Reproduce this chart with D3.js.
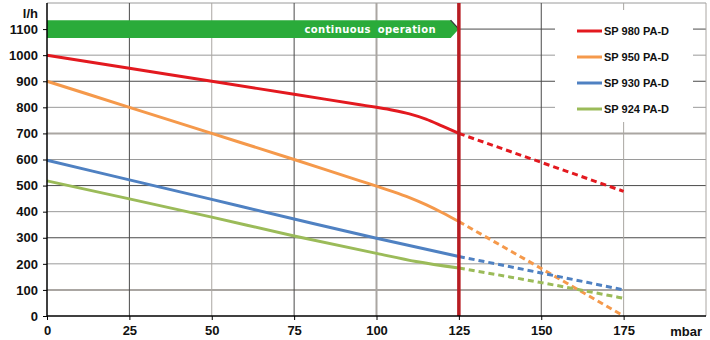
<!DOCTYPE html>
<html>
<head>
<meta charset="utf-8">
<script src="https://cdn.jsdelivr.net/npm/d3@7"></script>
<style>
  body { margin: 0; background: #fff; }
  svg { display: block; font-family: "Liberation Sans", Arial, sans-serif; }
</style>
</head>
<body>
<svg id="chart" width="710" height="340"></svg>
<script>
// data
var xTicks = [0, 25, 50, 75, 100, 125, 150, 175];
var yTicks = [0, 100, 200, 300, 400, 500, 600, 700, 800, 900, 1000, 1100];
var seriesNames = ["SP 980 PA-D", "SP 950 PA-D", "SP 930 PA-D", "SP 924 PA-D"];
var seriesColors = ["#e3191f", "#f5994b", "#4f81c2", "#9bbb59"];

// solid part (0..125 mbar)
var sp980 = [[0, 1000], [25, 950], [50, 900], [75, 850], [95, 810], [100, 800], [105, 789], [110, 775], [115, 755], [120, 728], [125, 700]];
var sp950 = [[0, 900], [25, 800], [50, 700], [75, 600], [95, 518], [100, 498], [105, 477], [110, 454], [115, 427], [120, 396], [125, 362]];
var sp930 = [[0, 597], [25, 522], [50, 447], [75, 372], [100, 298], [125, 228]];
var sp924 = [[0, 518], [25, 449], [50, 379], [75, 307], [100, 240], [112, 209], [125, 184]];
// dashed part (125..175 mbar)
var sp980d = [[125, 700], [175, 478]];
var sp950d = [[125, 362], [150, 182], [175, 0]];
var sp930d = [[125, 228], [150, 165], [175, 100]];
var sp924d = [[125, 184], [150, 128], [175, 68]];

var solid = [sp980, sp950, sp930, sp924];
var dashed = [sp980d, sp950d, sp930d, sp924d];

var svg = d3.select("#chart");
var x = d3.scaleLinear().domain([0, 200]).range([47, 706]);
var y = d3.scaleLinear().domain([0, 1200]).range([316, 3]);

// gridlines
var hDark = [300, 500, 900, 1100];
var hThick = [100, 700];
var grid = svg.append("g");
grid.selectAll("line.h")
  .data(yTicks.slice(1).concat([1200]))
  .join("line")
  .attr("x1", x(0)).attr("x2", x(200))
  .attr("y1", d => y(d)).attr("y2", d => y(d))
  .attr("stroke", d => hDark.includes(d) ? "#4a4a4a" : (hThick.includes(d) ? "#aaa6a2" : "#9a9a9a"))
  .attr("stroke-width", d => hThick.includes(d) ? 2 : 1);

var vDark = [25, 75, 150];
grid.selectAll("line.v")
  .data([25, 50, 75, 100, 150, 175, 200])
  .join("line")
  .attr("y1", y(0)).attr("y2", y(1200))
  .attr("x1", d => x(d)).attr("x2", d => x(d))
  .attr("stroke", d => vDark.includes(d) ? "#4a4a4a" : "#aaa6a2")
  .attr("stroke-width", d => d == 100 ? 2 : 1);

// green "continuous operation" arrow
var arrowTop = 1134, arrowBot = 1066, tip = 125;
var arrow = d3.path();
arrow.moveTo(x(0), y(arrowTop));
arrow.lineTo(x(122.5), y(arrowTop));
arrow.lineTo(x(tip), y((arrowTop + arrowBot) / 2));
arrow.lineTo(x(122.5), y(arrowBot));
arrow.lineTo(x(0), y(arrowBot));
arrow.closePath();
svg.append("path").attr("d", arrow.toString()).attr("fill", "#2aab3a");
svg.append("line")
  .attr("x1", x(122.5)).attr("y1", y(arrowTop))
  .attr("x2", x(tip)).attr("y2", y((arrowTop + arrowBot) / 2))
  .attr("stroke", "#333").attr("stroke-width", 1.2);
svg.append("text")
  .attr("x", 436).attr("y", y(1100) + 4)
  .attr("text-anchor", "end")
  .attr("fill", "#fff")
  .style("font-family", "'DejaVu Sans', Verdana, sans-serif")
  .style("font-weight", "bold")
  .style("font-size", "10px")
  .style("letter-spacing", "0.4px")
  .style("word-spacing", "3px")
  .text("continuous operation");

// legend background (hides gridlines)
svg.append("rect")
  .attr("x", 555).attr("y", 10).attr("width", 138).attr("height", 112)
  .attr("fill", "#fff");

// curves
var line = d3.line()
  .x(d => x(d[0]))
  .y(d => y(d[1]))
  .curve(d3.curveMonotoneX);

svg.append("g").selectAll("path")
  .data(solid)
  .join("path")
  .attr("d", line)
  .attr("fill", "none")
  .attr("stroke", (d, i) => seriesColors[i])
  .attr("stroke-width", 3);

svg.append("g").selectAll("path")
  .data(dashed)
  .join("path")
  .attr("d", line)
  .attr("fill", "none")
  .attr("stroke", (d, i) => seriesColors[i])
  .attr("stroke-width", 3)
  .attr("stroke-dasharray", "6,4");

// red limit line at 125 mbar
svg.append("line")
  .attr("x1", x(125)).attr("x2", x(125))
  .attr("y1", y(1200)).attr("y2", y(0))
  .attr("stroke", "#b71c22")
  .attr("stroke-width", 3.5);

// axes
svg.append("line")
  .attr("x1", x(0)).attr("x2", x(200))
  .attr("y1", y(0)).attr("y2", y(0))
  .attr("stroke", "#000").attr("stroke-width", 1.5);
svg.append("line")
  .attr("x1", x(0)).attr("x2", x(0))
  .attr("y1", y(0)).attr("y2", y(1200))
  .attr("stroke", "#000").attr("stroke-width", 1.5);

var yAxis = d3.axisLeft(y).tickValues(yTicks).tickFormat(d3.format("d")).tickSize(4).tickPadding(5);
svg.append("g")
  .attr("transform", `translate(${x(0)},0)`)
  .call(yAxis)
  .call(g => g.select(".domain").remove())
  .call(g => g.selectAll("text")
    .attr("fill", "#111")
    .style("font-family", "'Liberation Sans', Arial, sans-serif")
    .style("font-weight", "bold")
    .style("font-size", "13px"));

var xAxis = d3.axisBottom(x).tickValues(xTicks).tickFormat(d3.format("d")).tickSize(4).tickPadding(6);
svg.append("g")
  .attr("transform", `translate(0,${y(0)})`)
  .call(xAxis)
  .call(g => g.select(".domain").remove())
  .call(g => g.selectAll("text")
    .attr("fill", "#111")
    .style("font-family", "'Liberation Sans', Arial, sans-serif")
    .style("font-weight", "bold")
    .style("font-size", "13px"));

svg.append("text")
  .attr("x", 38).attr("y", 18)
  .attr("text-anchor", "end")
  .style("font-weight", "bold").style("font-size", "13px")
  .attr("fill", "#111")
  .text("l/h");
svg.append("text")
  .attr("x", 702).attr("y", 336)
  .attr("text-anchor", "end")
  .style("font-weight", "bold").style("font-size", "13px")
  .attr("fill", "#111")
  .text("mbar");

// legend
var legend = svg.append("g").selectAll("g")
  .data(seriesNames)
  .join("g")
  .attr("transform", (d, i) => `translate(577,${31 + i * 26})`);
legend.append("line")
  .attr("x1", 0).attr("x2", 25)
  .attr("stroke", (d, i) => seriesColors[i])
  .attr("stroke-width", 3);
legend.append("text")
  .attr("x", 27).attr("y", 4)
  .attr("fill", "#111")
  .style("font-weight", "bold")
  .style("font-size", "11px")
  .text(d => d);
</script>
</body>
</html>
